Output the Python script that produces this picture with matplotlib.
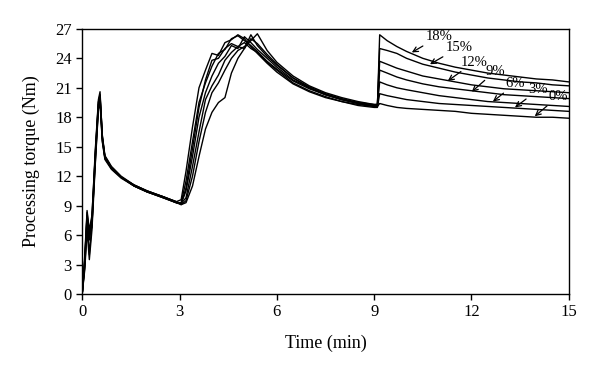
import matplotlib
matplotlib.use("Agg")
import matplotlib.pyplot as plt

plt.rcParams['font.family'] = ['Liberation Serif', 'DejaVu Serif']

# Shared time grid (min)
time_min = [0, 0.08, 0.15, 0.22, 0.3, 0.4, 0.5, 0.55, 0.62, 0.7, 0.9, 1.2, 1.6, 2.0, 2.5, 2.9,
            3.05, 3.2, 3.4, 3.6, 3.8, 4.0, 4.2, 4.4, 4.6, 4.8, 5.0, 5.2, 5.4, 5.7, 6.0, 6.5,
            7.0, 7.5, 8.0, 8.5, 9.0, 9.1,
            9.17, 9.4, 9.7, 10.0, 10.5, 11.0, 11.5, 12.0, 12.5, 13.0, 13.5, 14.0, 14.5, 15.0]

# Torque (Nm) for each filler content
torque_0 = [0, 3.5, 8.3, 6.2, 7.8, 14.5, 19.8, 20.6, 16.0, 14.0, 12.9, 11.9, 11.1, 10.5, 9.9, 9.4,
            9.6, 12.5, 17.0, 21.0, 22.8, 24.5, 24.3, 25.6, 25.9, 26.4, 26.0, 25.2, 24.5, 23.5, 22.6, 21.4,
            20.6, 20.0, 19.6, 19.3, 19.1, 19.1,
            19.4, 19.2, 19.0, 18.9, 18.8, 18.7, 18.6, 18.4, 18.3, 18.2, 18.1, 18.0, 18.0, 17.9]
torque_3 = [0, 3.0, 7.5, 5.8, 7.0, 13.5, 19.2, 19.8, 15.8, 13.8, 12.8, 11.9, 11.0, 10.4, 9.8, 9.3,
            9.2, 10.8, 14.8, 19.0, 21.8, 23.8, 24.0, 25.0, 25.5, 25.2, 25.6, 25.0, 24.6, 23.6, 22.8, 21.5,
            20.7, 20.1, 19.6, 19.2, 19.0, 19.0,
            20.4, 20.2, 20.0, 19.8, 19.6, 19.4, 19.3, 19.2, 19.1, 19.0, 18.9, 18.8, 18.7, 18.6]
torque_6 = [0, 2.5, 6.5, 3.5, 6.5, 13.0, 18.8, 19.4, 15.5, 13.7, 12.7, 11.8, 11.0, 10.4, 9.8, 9.3,
            9.3, 11.5, 15.5, 19.5, 21.5, 23.2, 24.5, 24.9, 26.0, 26.3, 25.8, 25.3, 24.7, 23.7, 22.9, 21.7,
            20.9, 20.3, 19.8, 19.4, 19.2, 19.2,
            21.6, 21.3, 21.0, 20.8, 20.5, 20.2, 20.0, 19.8, 19.6, 19.5, 19.4, 19.3, 19.2, 19.1]
torque_9 = [0, 4.0, 8.5, 6.5, 8.0, 14.0, 19.5, 20.2, 16.2, 14.1, 13.0, 12.0, 11.1, 10.5, 9.9, 9.4,
            9.2, 10.5, 14.0, 18.0, 20.5, 22.2, 23.5, 24.2, 25.3, 25.0, 26.2, 25.6, 24.9, 24.0, 23.1, 21.8,
            21.0, 20.3, 19.8, 19.5, 19.2, 19.2,
            22.8, 22.5, 22.1, 21.8, 21.4, 21.1, 20.9, 20.7, 20.5, 20.3, 20.2, 20.1, 20.0, 19.9]
torque_12 = [0, 3.2, 7.8, 4.0, 7.2, 13.2, 19.0, 19.6, 15.6, 13.9, 12.8, 11.9, 11.0, 10.4, 9.9, 9.3,
             9.2, 9.8, 13.0, 16.5, 19.8, 21.2, 22.3, 23.8, 24.6, 25.2, 25.0, 26.4, 25.3, 24.2, 23.3, 22.0,
             21.1, 20.4, 19.9, 19.5, 19.3, 19.3,
             23.7, 23.4, 23.0, 22.7, 22.2, 21.9, 21.6, 21.3, 21.1, 20.9, 20.8, 20.7, 20.6, 20.5]
torque_15 = [0, 2.8, 7.0, 5.5, 7.5, 13.8, 19.3, 20.0, 15.9, 14.0, 12.9, 11.9, 11.1, 10.5, 9.9, 9.4,
             9.1, 9.5, 12.0, 15.5, 18.5, 20.5, 21.5, 22.8, 24.0, 24.8, 25.2, 25.8, 26.5, 24.8, 23.6, 22.2,
             21.2, 20.5, 20.0, 19.6, 19.3, 19.3,
             25.0, 24.8, 24.5, 24.0, 23.4, 23.0, 22.6, 22.3, 22.0, 21.8, 21.6, 21.5, 21.3, 21.2]
torque_18 = [0, 3.6, 8.0, 6.0, 6.8, 14.2, 19.6, 20.3, 16.1, 13.9, 12.8, 11.9, 11.0, 10.4, 9.8, 9.3,
             9.1, 9.3, 11.0, 14.0, 16.8, 18.5, 19.5, 20.0, 22.5, 24.0, 25.0, 26.0, 25.5, 24.4, 23.4, 22.0,
             21.0, 20.3, 19.8, 19.4, 19.1, 19.1,
             26.4, 25.8, 25.2, 24.7, 24.0, 23.5, 23.1, 22.8, 22.5, 22.3, 22.1, 21.9, 21.8, 21.6]

series = [torque_0, torque_3, torque_6, torque_9, torque_12, torque_15, torque_18]

# Annotation labels: text position and arrow head position (data coords)
ann_labels = ['18%', '15%', '12%', '9%', '6%', '3%', '0%']
ann_text_x = [10.58, 11.2, 11.66, 12.43, 13.05, 13.76, 14.37]
ann_text_y = [26.2, 25.1, 23.6, 22.7, 21.4, 20.8, 20.1]
ann_head_x = [10.16, 10.72, 11.27, 12.01, 12.66, 13.34, 13.95]
ann_head_y = [24.6, 23.4, 21.7, 20.6, 19.6, 19.0, 18.1]

x_ticks = [0, 3, 6, 9, 12, 15]
y_ticks = [0, 3, 6, 9, 12, 15, 18, 21, 24, 27]

fig = plt.figure(figsize=(6, 3.75), dpi=100)
ax = fig.add_axes([0.137, 0.216, 0.811, 0.707])

for s in series:
    ax.plot(time_min, s, color='black', lw=1.0)

for lab, tx, ty, hx, hy in zip(ann_labels, ann_text_x, ann_text_y, ann_head_x, ann_head_y):
    ax.annotate(lab, xy=(hx, hy), xytext=(tx, ty), fontsize=10.5,
                ha='left', va='center',
                arrowprops=dict(arrowstyle='->', color='black', lw=0.9,
                                shrinkA=0, shrinkB=0, mutation_scale=9))

ax.set_xlim(0, 15)
ax.set_ylim(0, 27)
ax.set_xticks(x_ticks)
ax.set_yticks(y_ticks)
ax.tick_params(direction='out', length=4, width=1, labelsize=12, right=False, top=False)
for sp in ax.spines.values():
    sp.set_linewidth(1.0)
ax.set_xlabel('Time (min)', fontsize=13, labelpad=10)
ax.set_ylabel('Processing torque (Nm)', fontsize=13, labelpad=11)

fig.savefig('out.png', dpi=100)
